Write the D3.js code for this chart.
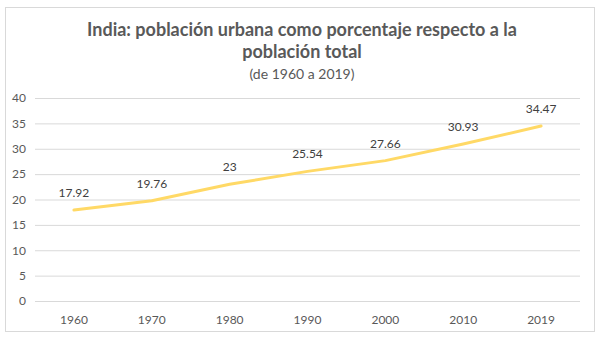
<!DOCTYPE html>
<html>
<head>
<meta charset="utf-8">
<script src="https://cdn.jsdelivr.net/npm/d3@7"></script>
<style>
  body { margin: 0; background: #fff; }
  text { font-family: Lato, "Open Sans", sans-serif; }
</style>
</head>
<body>
<svg id="chart" width="604" height="344"></svg>
<script>
// datos
const years = ["1960", "1970", "1980", "1990", "2000", "2010", "2019"];
const urbanPct = [17.92, 19.76, 23, 25.54, 27.66, 30.93, 34.47];
const yTicks = [0, 5, 10, 15, 20, 25, 30, 35, 40];

const svg = d3.select("#chart");
const width = 604, height = 344;
const margin = { top: 98, right: 24, bottom: 43, left: 35 };
const innerWidth = width - margin.left - margin.right;
const innerHeight = height - margin.top - margin.bottom;

// marco
svg.append("rect")
  .attr("x", 5.5).attr("y", 7.5)
  .attr("width", 589).attr("height", 324)
  .attr("fill", "#fff").attr("stroke", "#d9d9d9");

// títulos
svg.append("text")
  .attr("x", width / 2).attr("y", 36)
  .attr("text-anchor", "middle")
  .attr("font-size", 18).attr("font-weight", "bold").attr("fill", "#595959")
  .text("India: población urbana como porcentaje respecto a la");
svg.append("text")
  .attr("x", width / 2).attr("y", 58)
  .attr("text-anchor", "middle")
  .attr("font-size", 18).attr("font-weight", "bold").attr("fill", "#595959")
  .text("población total");
svg.append("text")
  .attr("x", width / 2).attr("y", 79)
  .attr("text-anchor", "middle")
  .attr("font-size", 14).attr("fill", "#595959")
  .text("(de 1960 a 2019)");

const g = svg.append("g")
  .attr("transform", `translate(${margin.left},${margin.top})`);

const x = d3.scaleBand().domain(years).range([0, innerWidth]);
const y = d3.scaleLinear().domain([0, 40]).range([innerHeight, 0]);

// rejilla + eje Y
const yAxis = g.append("g")
  .call(d3.axisLeft(y).tickValues(yTicks).tickSize(-innerWidth).tickPadding(9));
yAxis.select(".domain").remove();
yAxis.selectAll(".tick line").attr("stroke", "#d9d9d9");
yAxis.selectAll(".tick text")
  .attr("fill", "#595959").attr("font-size", 12)
  .style("font-family", "Lato, sans-serif");

// eje X
const xAxis = g.append("g")
  .attr("transform", `translate(0,${innerHeight})`)
  .call(d3.axisBottom(x).tickSize(0).tickPadding(14));
xAxis.select(".domain").remove();
xAxis.selectAll(".tick text")
  .attr("fill", "#595959").attr("font-size", 12)
  .style("font-family", "Lato, sans-serif");

// línea
const line = d3.line()
  .x((d, i) => x(years[i]) + x.bandwidth() / 2)
  .y(d => y(d));

g.append("path")
  .datum(urbanPct)
  .attr("fill", "none")
  .attr("stroke", "#ffd966")
  .attr("stroke-width", 3)
  .attr("stroke-linecap", "round")
  .attr("stroke-linejoin", "round")
  .attr("d", line);

// etiquetas
g.selectAll(".label")
  .data(urbanPct)
  .enter()
  .append("text")
  .attr("class", "label")
  .attr("x", (d, i) => x(years[i]) + x.bandwidth() / 2)
  .attr("y", d => y(d) - 13)
  .attr("text-anchor", "middle")
  .attr("font-size", 12)
  .attr("fill", "#404040")
  .text(d => d);
</script>
</body>
</html>
